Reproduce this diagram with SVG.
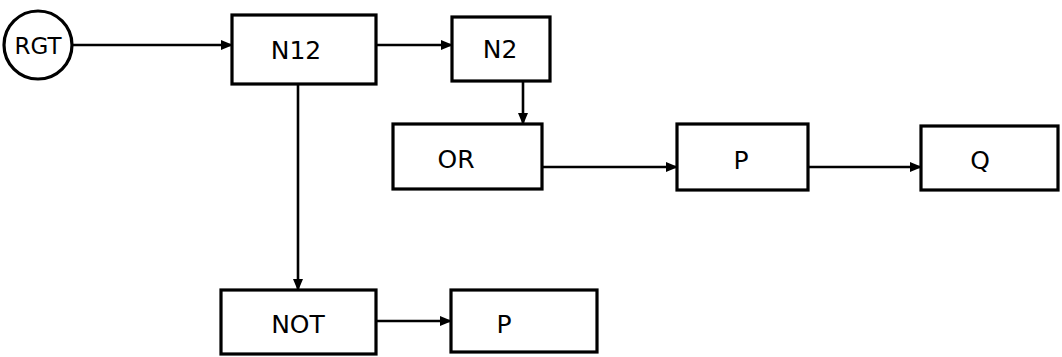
<svg xmlns="http://www.w3.org/2000/svg" width="1062" height="357" viewBox="0 0 1062 357">
<style>
.box{fill:#fff;stroke:#000;stroke-width:3.2}
.lbl{font-family:"DejaVu Sans","Liberation Sans",sans-serif;font-size:25px;fill:#000;text-anchor:middle;dominant-baseline:central}
.edge{stroke:#000;stroke-width:2.6;fill:none;marker-end:url(#ah)}
</style>
<defs>
<marker id="ah" markerWidth="12" markerHeight="10" refX="11" refY="5" orient="auto" markerUnits="userSpaceOnUse">
<path d="M0,0 L12,5 L0,10 Z" fill="#000"/>
</marker>
</defs>
<rect width="1062" height="357" fill="#fff"/>
<g id="connectors">
<line class="edge" x1="72" y1="45" x2="232" y2="45"/>
<line class="edge" x1="376" y1="45" x2="452" y2="45"/>
<line class="edge" x1="523" y1="81" x2="523" y2="124"/>
<line class="edge" x1="298" y1="84" x2="298" y2="290"/>
<line class="edge" x1="542" y1="167" x2="677" y2="167"/>
<line class="edge" x1="808" y1="167" x2="921" y2="167"/>
<line class="edge" x1="376" y1="321" x2="451" y2="321"/>
</g>
<g id="RGT">
<circle class="box" cx="38" cy="45" r="34"/>
<text class="lbl" x="38" y="46" style="font-size:23px">RGT</text>
</g>
<g id="N12">
<rect class="box" x="232" y="15" width="144" height="69"/>
<text class="lbl" x="296" y="50">N12</text>
</g>
<g id="N2">
<rect class="box" x="452" y="17" width="98" height="64"/>
<text class="lbl" x="500" y="49">N2</text>
</g>
<g id="OR">
<rect class="box" x="393" y="124" width="149" height="65"/>
<text class="lbl" x="456" y="159">OR</text>
</g>
<g id="P1">
<rect class="box" x="677" y="124" width="131" height="66"/>
<text class="lbl" x="741" y="160">P</text>
</g>
<g id="Q">
<rect class="box" x="921" y="126" width="137" height="64"/>
<text class="lbl" x="980" y="160">Q</text>
</g>
<g id="NOT">
<rect class="box" x="221" y="290" width="155" height="64"/>
<text class="lbl" x="298" y="324">NOT</text>
</g>
<g id="P2">
<rect class="box" x="451" y="290" width="146" height="62"/>
<text class="lbl" x="504" y="324">P</text>
</g>
</svg>
